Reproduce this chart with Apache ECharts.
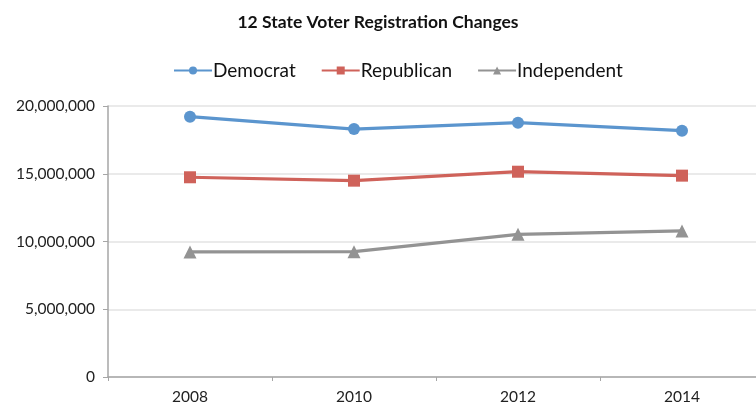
<!DOCTYPE html>
<html>
<head>
<meta charset="utf-8">
<script src="https://cdn.jsdelivr.net/npm/echarts@6/dist/echarts.min.js"></script>
<style>
  html, body { margin: 0; padding: 0; background: #fff; }
  #chartBox { width: 756px; height: 407px; }
</style>
</head>
<body>
<div id="chartBox"></div>
<script>
// X轴各项名称
var years = ['2008', '2010', '2012', '2014']
var democrat = [19210000, 18300000, 18770000, 18180000]
var republican = [14740000, 14490000, 15150000, 14860000]
var independent = [9230000, 9250000, 10530000, 10780000]

var myChart = echarts.init(document.getElementById('chartBox'))
var fontFamily = 'Lato'

function lineSeries (name, data, color, symbol, size) {
  return {
    name: name,
    type: 'line',
    data: data,
    symbol: symbol,
    symbolSize: size,
    lineStyle: { color: color, width: 3.2 },
    itemStyle: { color: color },
    emphasis: { disabled: true }
  }
}

myChart.setOption({
  animation: false,
  textStyle: { fontFamily: fontFamily },
  title: {
    text: '12 State Voter Registration Changes',
    left: 'center',
    top: 8,
    textStyle: { fontSize: 17.5, fontWeight: 'bold', color: '#111', fontFamily: fontFamily }
  },
  legend: {
    data: ['Democrat', 'Republican', 'Independent'],
    top: 56,
    left: 168,
    itemWidth: 38,
    itemHeight: 10,
    itemGap: 25,
    textStyle: { fontSize: 19, color: '#111', padding: [0, 0, 0, -4] }
  },
  grid: {
    left: 108,
    top: 106,
    width: 656,
    height: 271,
    containLabel: false,
    outerBoundsMode: 'none'
  },
  xAxis: {
    type: 'category',
    data: years,
    boundaryGap: true,
    axisLine: { lineStyle: { color: '#a6a6a6', width: 1.5 } },
    axisTick: { show: true, length: 4, lineStyle: { color: '#a6a6a6' } },
    axisLabel: { fontSize: 15.5, color: '#222', margin: 12 },
    splitLine: { show: false }
  },
  yAxis: {
    type: 'value',
    min: 0,
    max: 20000000,
    interval: 5000000,
    axisLine: { show: true, lineStyle: { color: '#a6a6a6', width: 1.5 } },
    axisTick: { show: true, length: 5, lineStyle: { color: '#a6a6a6' } },
    axisLabel: {
      fontSize: 15.5,
      color: '#222',
      margin: 13,
      formatter: function (v) {
        return echarts.format.addCommas(v)
      }
    },
    splitLine: { lineStyle: { color: '#e3e3e3', width: 1.5 } }
  },
  series: [
    lineSeries('Democrat', democrat, '#5b95ce', 'circle', 12),
    lineSeries('Republican', republican, '#cf625a', 'rect', 12),
    lineSeries('Independent', independent, '#939393', 'triangle', 13)
  ]
})
</script>
</body>
</html>
